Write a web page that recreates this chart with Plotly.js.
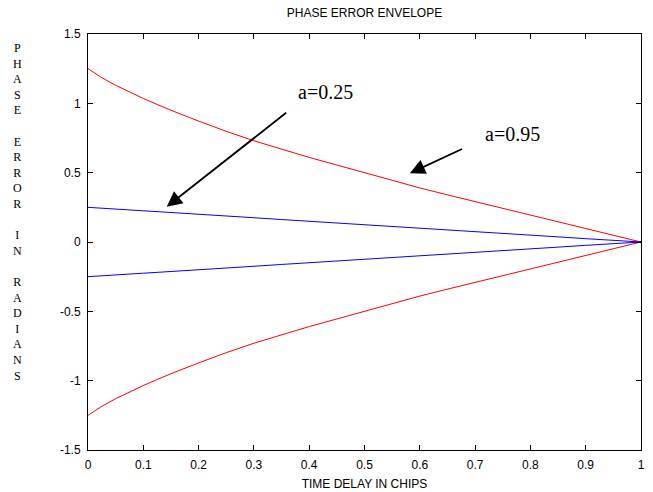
<!DOCTYPE html>
<html>
<head>
<meta charset="utf-8">
<script src="https://cdn.plot.ly/plotly-3.0.1.min.js"></script>
<style>html,body{margin:0;padding:0;background:#fff;}#chart{width:653px;height:492px;}</style>
</head>
<body>
<div id="chart"></div>
<script>
// Time delay in chips
const delayX = [0, 0.01, 0.025, 0.05, 0.075, 0.1, 0.125, 0.15, 0.2, 0.25, 0.3, 0.35, 0.4, 0.45, 0.5, 0.55, 0.6, 0.65, 0.7, 0.75, 0.8, 0.85, 0.9, 0.95, 1];
// a = 0.95 envelope (upper / lower)
const redUpper = [1.25, 1.222, 1.185, 1.13, 1.08, 1.035, 0.992, 0.95, 0.872, 0.798, 0.73, 0.668, 0.61, 0.555, 0.5, 0.44, 0.39, 0.34, 0.292, 0.243, 0.195, 0.146, 0.097, 0.048, 0];
const redLower = [-1.25, -1.222, -1.185, -1.13, -1.08, -1.035, -0.992, -0.95, -0.872, -0.798, -0.73, -0.668, -0.61, -0.555, -0.5, -0.44, -0.39, -0.34, -0.292, -0.243, -0.195, -0.146, -0.097, -0.048, 0];
// a = 0.25 envelope (upper / lower)
const blueUpper = [0.25, 0.248, 0.244, 0.238, 0.231, 0.225, 0.219, 0.212, 0.2, 0.188, 0.175, 0.162, 0.15, 0.137, 0.125, 0.112, 0.1, 0.087, 0.075, 0.062, 0.05, 0.037, 0.024, 0.01, 0];
const blueLower = [-0.25, -0.248, -0.244, -0.238, -0.231, -0.225, -0.219, -0.212, -0.2, -0.188, -0.175, -0.162, -0.15, -0.137, -0.125, -0.112, -0.1, -0.087, -0.075, -0.062, -0.05, -0.037, -0.024, -0.01, 0];

const xTicks = [0, 0.1, 0.2, 0.3, 0.4, 0.5, 0.6, 0.7, 0.8, 0.9, 1];
const xTickText = ['0', '0.1', '0.2', '0.3', '0.4', '0.5', '0.6', '0.7', '0.8', '0.9', '1'];
const yTicks = [-1.5, -1, -0.5, 0, 0.5, 1, 1.5];
const yTickText = ['-1.5', '-1', '-0.5', '0', '0.5', '1', '1.5'];

const yLabelLetters = ['P','H','A','S','E','\u00a0','E','R','R','O','R','\u00a0','I','N','\u00a0','R','A','D','I','A','N','S'];

const labelA25 = 'a=0.25';
const labelA95 = 'a=0.95';

const lineStyle = (c) => ({color: c, width: 1});
const traces = [
  {x: delayX, y: redUpper, mode: 'lines', line: lineStyle('#ff0000'), name: 'a=0.95 upper'},
  {x: delayX, y: redLower, mode: 'lines', line: lineStyle('#ff0000'), name: 'a=0.95 lower'},
  {x: delayX, y: blueUpper, mode: 'lines', line: lineStyle('#0000ff'), name: 'a=0.25 upper'},
  {x: delayX, y: blueLower, mode: 'lines', line: lineStyle('#0000ff'), name: 'a=0.25 lower'}
];

const sans = 'Liberation Sans, Arial, sans-serif';
const serif = 'Liberation Serif, Times New Roman, serif';

const layout = {
  width: 653, height: 492,
  margin: {l: 88, r: 12, t: 34, b: 42},
  paper_bgcolor: '#fff', plot_bgcolor: '#fff',
  showlegend: false,
  title: {text: 'PHASE ERROR ENVELOPE', font: {family: sans, size: 12, color: '#000'},
          xref: 'paper', x: 0.5, xanchor: 'center', yref: 'container', y: 1 - 13/492, yanchor: 'middle'},
  xaxis: {range: [0, 1], tickvals: xTicks, ticktext: xTickText, ticks: 'inside', ticklen: 5, tickcolor: '#000',
          showline: true, linecolor: '#000', linewidth: 1, mirror: 'ticks', showgrid: false, zeroline: false,
          ticklabelstandoff: 4,
          tickfont: {family: sans, size: 12, color: '#000'},
          title: {text: 'TIME DELAY IN CHIPS', font: {family: sans, size: 12, color: '#000'}, standoff: 8}},
  yaxis: {range: [-1.5, 1.5], tickvals: yTicks, ticktext: yTickText, ticks: 'inside', ticklen: 5, tickcolor: '#000',
          showline: true, linecolor: '#000', linewidth: 1, mirror: 'ticks', showgrid: false, zeroline: false,
          ticklabelstandoff: 4,
          tickfont: {family: sans, size: 12, color: '#000'}},
  annotations: [
    {xref: 'paper', yref: 'paper', x: (17 - 88) / 553, y: (450 - 212) / 416, xanchor: 'center', yanchor: 'middle',
     text: yLabelLetters.join('<br>'), showarrow: false, font: {family: serif, size: 12, color: '#000'}},
    {x: 0.1423, y: 0.2546, ax: 0.361, ay: 0.940, axref: 'x', ayref: 'y', xref: 'x', yref: 'y', text: '',
     showarrow: true, arrowhead: 2, arrowsize: 1.7, arrowwidth: 1.8, arrowcolor: '#000', standoff: 0},
    {x: 0.582, y: 0.495, ax: 0.679, ay: 0.676, axref: 'x', ayref: 'y', xref: 'x', yref: 'y', text: '',
     showarrow: true, arrowhead: 2, arrowsize: 1.7, arrowwidth: 1.8, arrowcolor: '#000', standoff: 0},
    {x: 0.430, y: 1.082, xref: 'x', yref: 'y', text: labelA25, showarrow: false,
     font: {family: serif, size: 20, color: '#000'}},
    {x: 0.767, y: 0.779, xref: 'x', yref: 'y', text: labelA95, showarrow: false,
     font: {family: serif, size: 20, color: '#000'}}
  ]
};

Plotly.newPlot('chart', traces, layout, {displayModeBar: false, staticPlot: true});
</script>
</body>
</html>
